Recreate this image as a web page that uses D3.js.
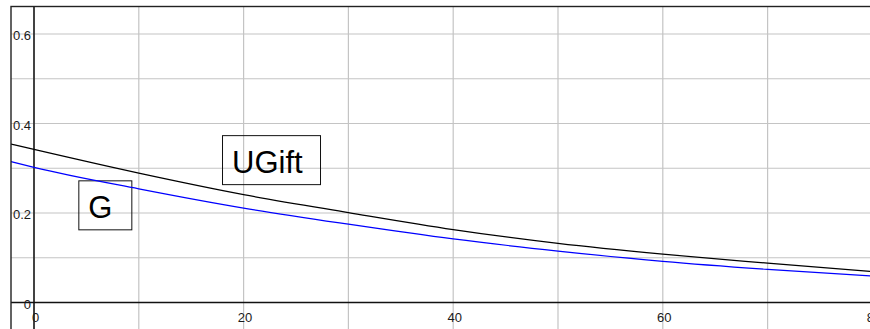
<!DOCTYPE html>
<html>
<head>
<meta charset="utf-8">
<script src="https://cdn.jsdelivr.net/npm/d3@7"></script>
<style>
  html, body { margin: 0; padding: 0; background: #fff; }
  svg { display: block; }
  text { font-family: "Liberation Sans", Arial, sans-serif; }
</style>
</head>
<body>
<svg id="chart" width="870" height="329"></svg>
<script>
// values
const xValues = [-2.2, 0, 10, 20, 30, 40, 50, 60, 70, 80];
const uGift = [0.354, 0.342, 0.289, 0.241, 0.201, 0.163, 0.132, 0.108, 0.088, 0.069];
const gValues = [0.315, 0.302, 0.254, 0.211, 0.175, 0.142, 0.115, 0.092, 0.074, 0.059];

const xGrid = [0, 10, 20, 30, 40, 50, 60, 70, 80];
const yGrid = [0, 0.1, 0.2, 0.3, 0.4, 0.5, 0.6];
const xTickLabels = [0, 20, 40, 60, 80];
const yTickLabels = [0, 0.2, 0.4, 0.6];

const labels = [
  { text: "UGift", x: 17.94, y: 0.374, w: 98, h: 49 },
  { text: "G", x: 4.23, y: 0.273, w: 53, h: 49 }
];

const svg = d3.select("#chart");
const width = 870, height = 329;
const frameLeft = 11, frameTop = 6.5;

const x = d3.scaleLinear().domain([0, 80]).range([34, 872.4]);
const y = d3.scaleLinear().domain([0, 0.6]).range([302.5, 34]);

svg.append("defs").append("clipPath").attr("id", "clip")
  .append("rect")
  .attr("x", frameLeft).attr("y", frameTop)
  .attr("width", width - frameLeft).attr("height", height - frameTop);

const plot = svg.append("g").attr("clip-path", "url(#clip)");

// grid
plot.append("g")
  .selectAll("line")
  .data(xGrid)
  .join("line")
  .attr("x1", (d) => x(d)).attr("x2", (d) => x(d))
  .attr("y1", frameTop).attr("y2", height)
  .attr("stroke", "#c4c4c4")
  .attr("stroke-width", 1.2);

plot.append("g")
  .selectAll("line")
  .data(yGrid)
  .join("line")
  .attr("x1", frameLeft).attr("x2", width)
  .attr("y1", (d) => y(d)).attr("y2", (d) => y(d))
  .attr("stroke", "#c4c4c4")
  .attr("stroke-width", 1.2);

// main axes
plot.append("line")
  .attr("x1", frameLeft).attr("x2", width)
  .attr("y1", y(0)).attr("y2", y(0))
  .attr("stroke", "#111").attr("stroke-width", 1.5);
plot.append("line")
  .attr("x1", x(0)).attr("x2", x(0))
  .attr("y1", frameTop).attr("y2", height)
  .attr("stroke", "#111").attr("stroke-width", 1.5);

// tick labels
const xAxis = svg.append("g")
  .attr("transform", `translate(1,${y(0)})`)
  .call(d3.axisBottom(x).tickValues(xTickLabels).tickSize(0).tickPadding(10.3)
    .tickFormat(d3.format("d")));
const yAxis = svg.append("g")
  .attr("transform", `translate(${x(0)},0)`)
  .call(d3.axisLeft(y).tickValues(yTickLabels).tickSize(0).tickPadding(3)
    .tickFormat((d) => (d === 0 ? "0" : d3.format(".1f")(d))));

[xAxis, yAxis].forEach((a) => {
  a.select(".domain").remove();
  a.selectAll("text")
    .attr("font-size", 13)
    .attr("font-family", "Liberation Sans, Arial, sans-serif")
    .attr("fill", "#1a1a1a");
});
yAxis.selectAll("text").attr("dy", "0.45em");

// label boxes (transparent)
const lab = plot.append("g")
  .selectAll("g")
  .data(labels)
  .join("g")
  .attr("transform", (d) => `translate(${x(d.x)},${y(d.y)})`);
lab.append("rect")
  .attr("x", 0.5).attr("y", 0.5)
  .attr("width", (d) => d.w).attr("height", (d) => d.h)
  .attr("fill", "none")
  .attr("stroke", "#111")
  .attr("stroke-width", 1);
lab.append("text")
  .attr("x", 10)
  .attr("y", 37.5)
  .attr("font-size", 31)
  .attr("fill", "#000")
  .text((d) => d.text);

// curves
const line = d3.line()
  .x((d) => x(d[0]))
  .y((d) => y(d[1]))
  .curve(d3.curveMonotoneX);

plot.append("path")
  .datum(xValues.map((v, i) => [v, uGift[i]]))
  .attr("d", line)
  .attr("fill", "none")
  .attr("stroke", "#000")
  .attr("stroke-width", 1.2);

plot.append("path")
  .datum(xValues.map((v, i) => [v, gValues[i]]))
  .attr("d", line)
  .attr("fill", "none")
  .attr("stroke", "#0000ff")
  .attr("stroke-width", 1.2);

// frame
svg.append("rect")
  .attr("x", frameLeft).attr("y", frameTop)
  .attr("width", width + 10).attr("height", height + 10)
  .attr("fill", "none")
  .attr("stroke", "#222")
  .attr("stroke-width", 1.4);
</script>
</body>
</html>
